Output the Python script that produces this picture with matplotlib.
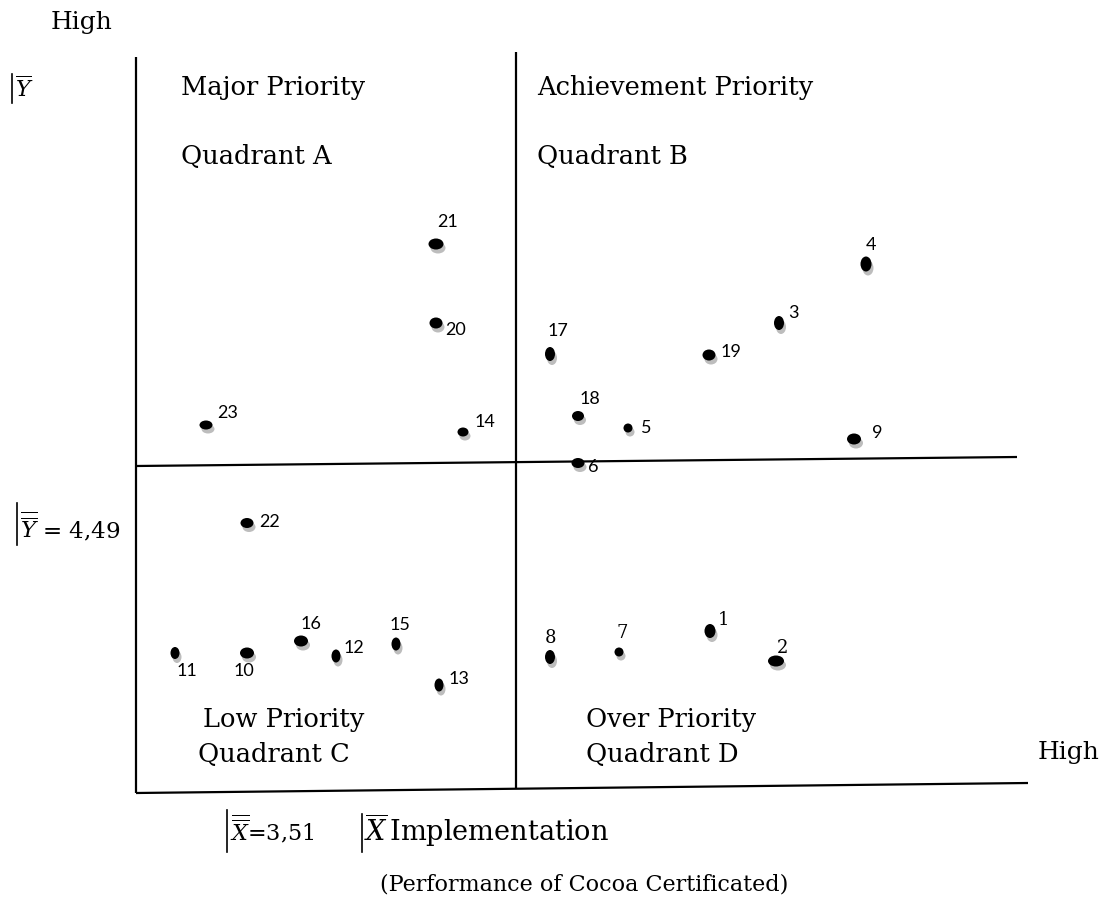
"""Importance-performance quadrant map of cocoa certification attributes."""

import matplotlib

matplotlib.use("Agg")
from matplotlib import pyplot as plt
from matplotlib.patches import Ellipse

plt.rcParams["mathtext.fontset"] = "dejavuserif"

# attribute numbers and their positions on the map (canvas units, y grows downwards)
ids = [str(i) for i in range(1, 24)]
pos_x = [710, 776, 779, 866, 628, 578, 619, 550, 854, 247, 175, 336,
         439, 463, 396, 301, 550, 578, 709, 436, 436, 247, 206]
pos_y = [631, 661, 323, 264, 428, 463, 652, 657, 439, 653, 653, 656,
         685, 432, 644, 641, 354, 416, 355, 323, 244, 523, 425]

# where each number sits relative to its dot
lab_dx = [14, 7, 14, 5, 18, 15, 3, 0, 23, -3, 12, 18, 20, 22, 4, 10, 8, 12, 22, 20, 12, 23, 22]
lab_dy = [-11, -13, -10, -19, 0, 4, -19, -19, -6, 18, 18, -8, -6, -10, -19, -17, -23, -17, -3, 7, -22, -1, -12]
serif_ids = {"1", "2", "7", "8"}

# dot shapes (width, height)
dot_w = [11, 16, 10, 11, 9, 13, 9, 10, 14, 14, 9, 9, 9, 11, 9, 14, 10, 12, 13, 13, 15, 13, 13]
dot_h = [14, 11, 14, 15, 9, 10, 9, 14, 11, 11, 12, 13, 13, 9, 13, 11, 14, 10, 11, 11, 11, 10, 9]

# frame and divider lines: (x0, y0, x1, y1)
frame_lines = [
    (136, 57, 136, 793),
    (516, 52, 516, 789),
    (136, 793, 1028, 783),
    (136, 466, 1017, 457),
]

quadrant_text = [
    (181, 88, "Major Priority"),
    (181, 157, "Quadrant A"),
    (537, 88, "Achievement Priority"),
    (537, 157, "Quadrant B"),
    (203, 719, "Low Priority"),
    (198, 754, "Quadrant C"),
    (586, 719, "Over Priority"),
    (586, 754, "Quadrant D"),
]

SERIF = "DejaVu Serif"
SANS = "Lato"

fig = plt.figure(figsize=(11.12, 9.16), dpi=100)
ax = fig.add_axes([0, 0, 1, 1])
ax.set_xlim(0, 1112)
ax.set_ylim(916, 0)
ax.axis("off")

for x0, y0, x1, y1 in frame_lines:
    ax.plot([x0, x1], [y0, y1], color="black", lw=1.6, solid_capstyle="butt")

for x, y, txt in quadrant_text:
    ax.text(x, y, txt, fontsize=18.5, family=SERIF, ha="left", va="center")

# dots with a grey drop shadow
for i, (x, y) in enumerate(zip(pos_x, pos_y)):
    w, h = dot_w[i], dot_h[i]
    ax.add_patch(Ellipse((x + 2, y + 4), w, h, color="#bdbdbd", lw=0, zorder=2))
    ax.add_patch(Ellipse((x, y), w, h, color="black", lw=0, zorder=3))
    fam = SERIF if ids[i] in serif_ids else SANS
    ax.text(x + lab_dx[i], y + lab_dy[i], ids[i], fontsize=13, family=fam,
            ha="center", va="center", zorder=4)

# axis annotations
ax.text(82, 22, "High", fontsize=18, family=SERIF, ha="center", va="center")
ax.text(1069, 752, "High", fontsize=18, family=SERIF, ha="center", va="center")
ax.plot([12, 12], [74, 103], color="black", lw=1.2)
ax.text(15, 88, r"$\overline{Y}$", fontsize=16, ha="left", va="center")
ax.plot([17, 17], [503, 545], color="black", lw=1.2)
ax.text(20, 527, r"$\overline{\overline{Y}}$" + " = 4,49", fontsize=16.5,
        family=SERIF, ha="left", va="center")
ax.plot([227, 227], [810, 852], color="black", lw=1.2)
ax.text(230, 830, r"$\overline{\overline{X}}$" + "=3,51", fontsize=16,
        family=SERIF, ha="left", va="center")
ax.plot([362, 362], [814, 852], color="black", lw=1.2)
ax.text(364, 830, r"$\overline{X}\,$" + "Implementation", fontsize=19.5,
        family=SERIF, ha="left", va="center")
ax.text(584, 884, "(Performance of Cocoa Certificated)", fontsize=16,
        family=SERIF, ha="center", va="center")

fig.savefig("out.png", dpi=100, facecolor="white")
